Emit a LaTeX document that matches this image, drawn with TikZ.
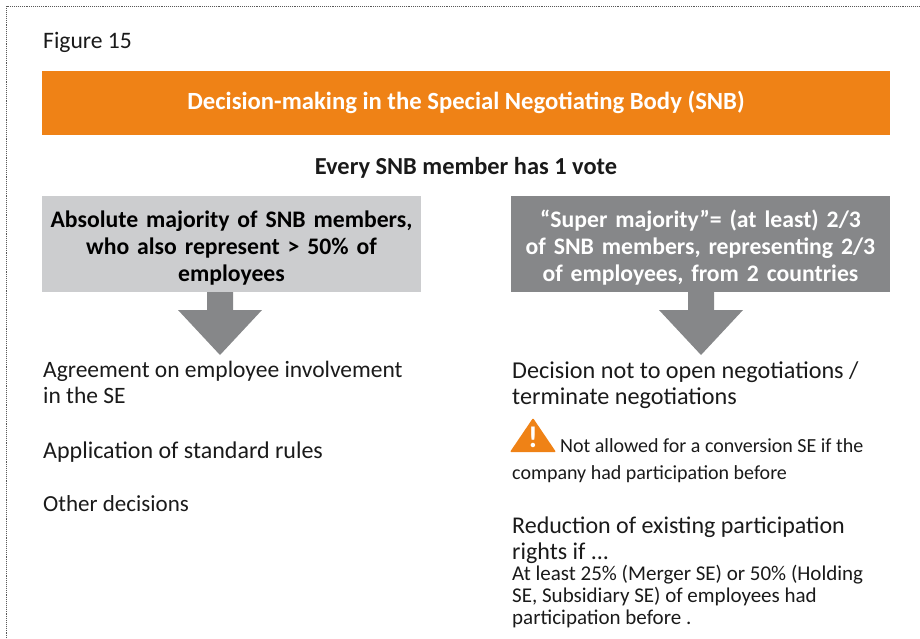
\documentclass[tikz,border=0pt]{standalone}
\usepackage{fontspec}
\setmainfont{Carlito}
\usetikzlibrary{positioning}
\definecolor{snborange}{RGB}{239,130,22}
\definecolor{lightbox}{RGB}{204,205,207}
\definecolor{darkbox}{RGB}{134,135,137}
\definecolor{textblack}{RGB}{26,26,26}
\tikzset{
    head/.style={fill=snborange,text=white,font=\fontsize{24.7}{28}\selectfont\bfseries,minimum width=848pt,minimum height=64pt,inner sep=0pt},
    votebox/.style={text width=379pt,minimum width=379pt,minimum height=96pt,inner sep=0pt,align=center,font=\fontsize{23.7}{27}\selectfont\bfseries},
    plain/.style={anchor=north west,inner sep=0pt,align=left,text=textblack,font=\fontsize{23.8}{26}\selectfont},
    small/.style={anchor=north west,inner sep=0pt,align=left,text=textblack,font=\fontsize{20}{22}\selectfont},
}
\begin{document}
\begin{tikzpicture}[x=1pt,y=-1pt]
\useasboundingbox (0,0) rectangle (920,638);
\draw[black!65,densely dotted,line width=.9pt] (6,640) -- (6,6) -- (920,6);
\node[small,font=\fontsize{23.6}{26}\selectfont] (fig) at (43,32) {Figure 15};
\node[head] (title) at (466,102.5) {Decision-making in the Special Negotiating Body (SNB)};
\node[font=\fontsize{24.4}{28}\selectfont\bfseries,text=textblack] (vote) at (466,168) {Every SNB member has 1 vote};
\node[votebox,fill=lightbox,text=black] (abs) at (231.5,244) {\rule{0pt}{25pt}Absolute majority of SNB members,\\who also represent > 50\% of\\employees};
\node[votebox,fill=darkbox,text=white] (super) at (700.5,244) {\rule{0pt}{25pt}``Super majority''= (at least) 2/3\\of SNB members, representing 2/3\\of employees, from 2 countries};
% arrows under the boxes
\coordinate (la) at (220,292);
\coordinate (ra) at (701,292);
\foreach \c in {la,ra}
    \fill[darkbox] (\c) ++(-13,0) -- ++(0,18) -- ++(-29,0) -- ++(42,45) -- ++(42,-45) -- ++(-29,0) -- ++(0,-18) -- cycle;
\node[plain,font=\fontsize{23.5}{26}\selectfont] (agree) at (43,361) {Agreement on employee involvement\\in the SE};
\node[plain,font=\fontsize{24}{26}\selectfont] (rules) at (43,442) {Application of standard rules};
\node[plain,font=\fontsize{23}{26}\selectfont] (other) at (43,495) {Other decisions};
\node[plain,font=\fontsize{24.2}{26}\selectfont] (open) at (512,361) {Decision not to open negotiations /\\terminate negotiations};
\fill[snborange,rounded corners=1pt] (510,452) -- (533,418) -- (556,452) -- cycle;
\node[text=white,inner sep=0pt,font=\fontsize{30}{30}\selectfont\bfseries] (warn) at (533,437) {!};
\node[small] (conv1) at (560,438) {Not allowed for a conversion SE if the};
\node[small] (conv2) at (512,465) {company had participation before};
\node[plain,font=\fontsize{24}{26}\selectfont] (red) at (512,516.5) {Reduction of existing participation\\rights if ...};
\node[small,font=\fontsize{21}{22}\selectfont] (least) at (512,565) {At least 25\% (Merger SE) or 50\% (Holding\\SE, Subsidiary SE) of employees had\\participation before .};
\end{tikzpicture}
\end{document}
